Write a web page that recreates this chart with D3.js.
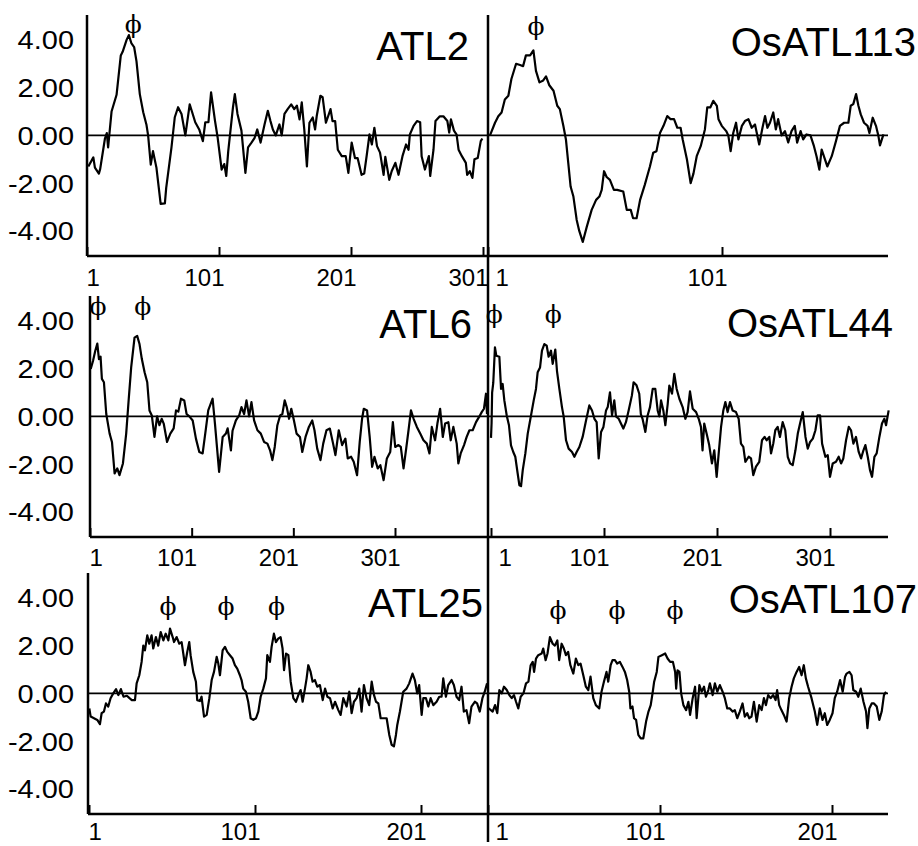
<!DOCTYPE html>
<html>
<head>
<meta charset="utf-8">
<script src="https://cdn.jsdelivr.net/npm/d3@7"></script>
<style>
  body { margin: 0; background: #fff; }
  svg { display: block; }
  text { font-family: "Liberation Sans", Arial, sans-serif; fill: #000; }
</style>
</head>
<body>
<svg id="chart" width="918" height="846"></svg>
<script>
// Hydropathy profiles, [residue, value]
const ATL2 = [[2,-1.3],[5.8,-0.92],[7,-1.35],[10,-1.6],[11,-1.4],[14.6,-0.13],[16,0.1],[17,-0.5],[19.6,1.0],[23.4,1.7],[26.6,3.35],[28,3.5],[31,4.0],[32.7,4.2],[34.7,3.85],[36.7,3.7],[38.5,3.1],[41,1.73],[43.6,0.97],[46,0.46],[47.3,0],[49.3,-1.22],[51,-0.66],[53.6,-1.35],[56.8,-2.87],[60,-2.85],[61,-2.2],[65,-0.5],[67.5,0.76],[70,1.18],[72.6,0.9],[75.5,0],[78.8,1.3],[80.5,1.0],[83,0.55],[86,0.25],[88.8,-0.24],[90.6,0.55],[93,0.55],[95,1.8],[98,0.6],[100,-0.1],[103,-1.43],[105,-1.2],[106.5,-1.7],[108,-0.66],[111.6,1.18],[113,1.73],[115,0.9],[118,0.2],[121,-1.57],[123,-0.5],[125.6,-0.3],[128,-0.1],[130,0.25],[132.5,-0.3],[135.5,0.46],[138,1.03],[140,0.6],[141.8,0.25],[144,0],[146.8,0.46],[148.5,0],[150.6,0.9],[153,1.1],[155.7,1.3],[158,1.1],[160,1.25],[162,0.67],[163.7,1.38],[165.6,0.25],[167.6,-1.3],[169.5,0.53],[172,0.75],[173.8,0.25],[175,0.8],[177.8,1.66],[179.5,1.6],[182,0.53],[185.5,1.1],[187,0.6],[189,0.6],[191,-0.6],[194,-0.87],[197,-0.87],[199,-1.57],[201.5,-0.3],[204,-0.95],[206,-0.95],[209,-1.65],[211,-1.6],[213,-0.8],[215,0.04],[216.8,-0.38],[218.7,0.32],[220.7,-0.45],[223,-0.72],[225.7,-1.65],[227,-0.9],[230,-1.86],[231.8,-1.5],[234.6,-1.15],[237,-1.65],[240,-0.87],[242.7,-0.38],[244.6,-0.6],[245.6,0.04],[248.4,0.4],[251,0.6],[253.4,0.55],[254.5,-0.87],[257,-1.43],[260,-0.87],[261,-1.7],[263.5,-0.6],[265,0.6],[268.3,0.8],[271,0.8],[274,0.6],[275.4,0.12],[276.7,0.67],[279,0.2],[281,0.03],[282.5,-0.6],[285,-0.87],[288,-1.15],[289,-1.65],[291,-1.5],[293,-1.78],[294.5,-1.0],[297,-0.95],[299.3,-0.24],[300.5,-0.13]];

const OsATL113 = [[1.85,0],[4,0.53],[5.4,0.8],[6.8,0.96],[8.2,1.5],[9.7,1.66],[11,2.36],[13,3.0],[14.7,2.95],[16,2.9],[17.2,3.35],[19,3.35],[20.4,3.56],[21.5,2.7],[23,2.22],[24.6,2.3],[25.8,2.47],[27.2,2.1],[29,1.87],[30.6,1.24],[31.7,1.1],[33.2,0.4],[34.3,-0.17],[35.3,-1.15],[36.3,-2.14],[37.5,-2.56],[38.9,-3.54],[40,-4.0],[41.5,-4.46],[43.2,-3.83],[45.3,-3.12],[47.2,-2.7],[48.6,-2.56],[49.6,-2.28],[50.6,-1.5],[51.7,-1.74],[53.1,-1.86],[54.8,-2.28],[56.2,-2.28],[58.8,-2.35],[60.3,-3.12],[62,-3.12],[63,-3.47],[64.5,-3.47],[66,-2.7],[68,-2.07],[70.2,-1.3],[71.6,-0.73],[73,-0.66],[74.5,0.1],[76,0.4],[77.6,0.81],[79,0.68],[80.5,0.68],[81.9,0.32],[83.3,0.32],[84.2,-0.17],[86,-1.0],[87.6,-2.0],[88.8,-1.6],[90.2,-0.87],[91.9,-0.45],[93.7,0.25],[94.7,1.17],[96,1.17],[97.3,1.45],[98.8,1.24],[99.5,0.68],[100.9,0.4],[102.8,0.18],[103.7,0],[104.7,-0.66],[105.8,0.1],[107,0.53],[108,-0.17],[109.5,0.4],[110.8,0.6],[112.3,0.68],[113.7,0.32],[115.1,0.46],[116.9,-0.38],[118.3,0.32],[119.4,0.81],[120.4,0.32],[121.5,0.53],[122.9,0.96],[124,0.25],[125,0.68],[126.5,0],[127.9,0.18],[129.3,-0.3],[130.7,0.18],[132.1,0.4],[133.1,-0.3],[134.6,0.18],[135.7,-0.17],[137.1,0.04],[138.8,0],[140.3,-0.45],[141.4,-0.87],[142.6,-1.43],[143.6,-0.59],[145,-1.0],[146,-1.3],[147.9,-0.87],[149.7,-0.24],[151.4,0.4],[153.2,0.53],[155,0.53],[156,1.24],[157.1,1.31],[158.3,1.73],[159.3,1.24],[160.3,0.88],[161.7,0.53],[163.2,0.4],[164,0.1],[165.4,0.74],[166.8,0.4],[167.8,0],[168.5,-0.42],[170,0.04]];

const ATL6 = [[1.7,1.99],[4,2.33],[6.2,2.75],[8.2,3.05],[9.8,2.4],[11.4,2.5],[12.7,1.57],[14.7,1.43],[17,0.1],[20.3,-0.72],[22.6,-1.07],[25.2,-2.39],[27.8,-2.18],[30,-2.46],[33.4,-1.97],[36.6,-0.72],[39,0.67],[41.5,2.05],[44.8,3.3],[47.4,3.37],[49.7,3.03],[52,2.4],[54.7,1.85],[57.3,1.43],[59.5,0.25],[61.8,0.04],[64.4,-0.86],[67,0],[69.3,-0.37],[71.5,-0.1],[73.5,-0.3],[76.8,-1.07],[80,-0.72],[83.3,-0.5],[85.6,0.25],[87.9,0.2],[90.5,0.74],[93.7,0.67],[96,0.1],[98.7,0],[102,-0.17],[105.2,-0.93],[108.5,-1.49],[111.8,-1.55],[115,-0.51],[117.3,0.25],[121.6,0.74],[123.9,-0.3],[128,-2.32],[131.5,-0.86],[134.7,-0.72],[136.4,-0.5],[139.6,-1.42],[141.2,-0.6],[144.5,-0.17],[147.7,0.04],[150,0.39],[152.6,0.1],[154.9,0.67],[157.5,0],[159.8,0.6],[162.4,-0.17],[165.7,-0.58],[169,-0.72],[172.2,-1.07],[175.5,-1.14],[178.1,-1.42],[180.4,-1.83],[182.7,-1.28],[185.3,-0.37],[188,0.04],[190.2,0.1],[192.5,0.67],[194.5,0.39],[196.8,-0.1],[199,0.32],[201.6,-0.17],[204.2,-0.72],[207.5,-0.86],[209.8,-1.49],[213,-0.86],[216.3,-0.44],[219.6,-0.17],[221.8,-0.58],[224.5,-1.35],[227.7,-1.83],[230.4,-1.14],[233.6,-0.58],[236.9,-0.51],[240.1,-1.14],[242.4,-1.62],[245.7,-0.58],[249,-1.2],[252.2,-0.93],[254.5,-1.76],[257.8,-1.69],[260.4,-1.9],[263.7,-2.46],[266.3,-1.07],[268.6,-0.1],[270.3,0.32],[273.5,0.25],[276.1,-0.86],[278.5,-2.11],[280.8,-1.69],[284,-2.18],[286.6,-2.04],[289.8,-2.67],[293,-1.76],[296.3,-1.49],[298.9,-0.24],[301.2,-1.28],[304.4,-1.2],[306.7,-1.28],[309.4,-2.18],[312,-1.35],[314.3,-0.58],[316.7,0.25],[319.3,-0.1],[322.5,-0.44],[325.8,-0.72],[329,-1.0],[332.3,-1.14],[334.9,-1.55],[337.2,-0.44],[340.4,-1.0],[342.7,-0.3],[345.4,0.32],[348,-0.86],[350.3,-0.3],[353.5,-0.24],[355.8,-1.0],[358.4,-0.44],[361.7,-1.14],[363.3,-1.97],[365.6,-1.55],[368.9,-1.2],[371.5,-0.86],[374.2,-0.58],[377.4,-0.58],[380.7,-0.24],[384,0],[386.3,0.18],[388.5,0.32],[390.5,0.95],[391.5,0.1]];

const OsATL44 = [[1,-0.9],[1.5,-0.3],[2,1.0],[3,1.4],[4.5,2.89],[5.7,2.54],[8.4,2.5],[9.9,1.15],[11.3,1.36],[12.8,0.67],[14.9,0.04],[16.9,-0.37],[18.7,-1.21],[20.7,-1.49],[22.5,-1.69],[24.6,-2.39],[26.1,-2.88],[27.6,-2.92],[29.1,-2.25],[31.4,-1.55],[33.5,-0.72],[36.4,0.04],[38.8,0.67],[40.8,1.15],[42.3,1.85],[44.4,2.05],[46.1,2.75],[48.2,3.03],[50.3,2.96],[52,2.5],[54.1,2.75],[55.6,2.2],[57.9,2.8],[59.4,1.9],[61.5,1.15],[63.8,0.39],[65.3,0],[67.4,-1.0],[69.7,-1.35],[72.7,-1.49],[74.8,-1.69],[76.8,-1.49],[79.2,-1.28],[82.1,-0.86],[85.1,-0.17],[88,0.46],[90.4,0.25],[92.5,-0.1],[94.5,-0.24],[96.3,-1.76],[98.4,-0.65],[100.5,-0.44],[102.8,0.25],[104.3,0.39],[106.3,1.01],[108.1,0.04],[110.1,0.67],[111.6,0],[114,-0.1],[116,-0.3],[118.1,-0.51],[120.4,-0.24],[122.8,0.25],[125.7,0.88],[127.2,1.43],[129.8,1.3],[132.2,0.95],[133.6,0.1],[135.1,-0.1],[137.6,-0.65],[139.6,0.04],[141.7,0.39],[144.1,1.15],[146.4,1.15],[148.5,0.25],[150,0],[151.5,0.67],[153.5,0.25],[155.3,-0.37],[157.4,0.53],[158.8,1.29],[161.2,0.95],[163.2,1.78],[165.3,1.15],[167.7,0.74],[170.6,0.39],[173,-0.1],[175,0.18],[177.1,1.05],[179.5,0.32],[182.5,0.18],[184.8,-0.1],[186.8,-0.44],[188.2,-1.42],[189.7,-0.3],[191.8,-0.72],[194.1,-1.2],[196.5,-1.97],[198.6,-1.42],[200.7,-2.53],[202.5,-1.55],[204.6,-0.44],[206.6,0.25],[208.4,0.6],[210.4,0.18],[212.5,0.6],[214.8,0.25],[217.8,0.18],[220.2,-0.1],[222.2,-1.14],[224.3,-1.28],[226.1,-1.9],[229,-1.69],[231.1,-1.76],[233.1,-2.46],[235.5,-2.1],[238.4,-1.9],[240.8,-1.0],[243.1,-0.86],[244.9,-1.0],[247.3,-0.86],[248.8,-1.55],[250.8,-1.14],[252.6,-0.58],[254.7,-0.44],[256.7,-0.86],[259.1,-0.24],[261.4,-0.58],[263.6,-1.69],[265.7,-1.97],[268,-2.04],[270.4,-1.42],[272.5,-0.72],[274.5,-0.3],[276.9,0.18],[279.3,-0.86],[281.3,-1.35],[283.4,-1.07],[285.8,-0.93],[288.1,-0.58],[290.1,0.04],[292.2,0.04],[294,-1.14],[296.9,-1.69],[299,-1.62],[301,-2.53],[303.4,-1.97],[306.3,-1.9],[308.7,-1.69],[310.8,-1.97],[312.8,-1.76],[315.2,-1.0],[317.6,-0.44],[319.6,-0.58],[321.7,-1.14],[324,-0.86],[326.4,-1.49],[328.5,-1.76],[330.6,-1.42],[332.3,-1.2],[334.4,-1.69],[336.4,-2.25],[338.2,-2.53],[340.3,-1.69],[342.3,-1.55],[344.7,-0.86],[347,-0.3],[349.1,-0.1],[350.6,-0.37],[352.9,0.25]];

const ATL25 = [[1.2,-0.63],[2,-0.97],[4,-1.04],[6,-1.11],[7.6,-1.29],[8.6,-0.83],[10,-0.76],[11.2,-0.42],[12.6,-0.55],[14,-0.2],[15.6,0],[17.3,0.18],[18.7,-0.07],[20.2,0.18],[21.8,-0.14],[23.8,-0.1],[25.4,-0.2],[26.8,-0.28],[28.7,-0.28],[29.7,0.42],[31.3,0.76],[32.7,1.32],[33.7,2.0],[34.7,1.8],[36.1,2.43],[37.3,2.08],[38.7,2.43],[39.7,1.88],[41.3,2.36],[42.7,2.0],[44.2,2.57],[45.8,2.22],[47.2,2.5],[48.8,2.22],[49.8,2.71],[51.4,2.36],[52.2,2.15],[53.8,2.36],[55.4,2.08],[56.8,2.15],[57.8,1.67],[58.8,1.18],[60.2,1.74],[61.4,2.15],[62.2,1.6],[63.8,0.9],[65.4,0.49],[66.2,-0.28],[67.8,-0.32],[68.8,-0.14],[70.3,-0.97],[71.9,-0.9],[73.5,-0.2],[74.9,0.56],[76.3,0.9],[77.9,1.53],[78.9,1.25],[79.9,0.76],[81.5,1.8],[82.9,1.95],[84.3,1.74],[85.9,1.6],[87.5,1.46],[88.9,1.18],[90.3,1.04],[91.9,0.76],[92.9,0.56],[93.9,0.2],[95.5,0.07],[96.9,-0.35],[98.4,-1.04],[100,-1.11],[101.6,-1.04],[103,-0.76],[104.4,-0.14],[106,0.2],[107.6,0.63],[108.4,1.6],[110,1.32],[111,1.95],[112.4,2.5],[113.6,2.15],[115,2.29],[116.4,2.36],[117.6,1.88],[118.5,0.97],[119.7,1.67],[121.1,1.6],[122.5,0.49],[124.1,-0.2],[125.7,-0.35],[127.1,-0.07],[128.5,0.14],[129.7,-0.35],[131.1,0.2],[132.1,0.63],[133.1,1.18],[134.5,0.9],[135.7,0.49],[137.1,0.56],[138.5,0.28],[140.1,0.35],[141.8,-0.28],[143.2,0.2],[144.6,-0.14],[146.2,-0.2],[147.8,-0.63],[149.2,-0.35],[151.2,-0.7],[152.6,-0.9],[154.2,-0.2],[156.2,-0.55],[157.8,0.07],[159.2,-0.83],[160.6,-0.35],[162.2,-0.2],[163.8,0.2],[165.2,-0.76],[166.6,0.35],[168.2,-0.2],[169.8,-0.49],[171.3,0.49],[172.7,-0.07],[173.9,-0.35],[175.3,-0.42],[176.7,-1.04],[178.3,-1.04],[180.3,-1.04],[181.9,-1.74],[183.3,-2.15],[184.7,-2.22],[185.9,-1.74],[186.7,-1.32],[188.3,-0.76],[190.3,0.07],[192.3,0.2],[193.9,0.42],[195.9,0.83],[197.3,0.56],[198.7,0],[199.9,0.35],[201.4,-0.9],[202.4,-0.2],[204,-0.2],[205.4,-0.55],[206.8,-0.2],[208.4,-0.49],[210.4,-0.35],[212,-0.14],[213.4,-0.14],[214.4,0.63],[216,-0.14],[217.4,0.35],[219.4,0.56],[220.8,0.35],[222.4,-0.14],[224,-0.28],[225.4,0.28],[226.8,-0.76],[228.4,-0.7],[230,-1.25],[231.4,-0.55],[233.4,-0.35],[234.8,-0.42],[236.4,-0.76],[238,-0.2],[239.4,0.07],[240.8,0.42]];

const OsATL107 = [[1,-0.6],[3.7,-0.76],[5.1,-0.49],[6.4,-0.83],[7.6,0.14],[9,0],[10.3,0.28],[11.9,0.14],[13.4,-0.07],[14.8,-0.2],[16.1,-0.07],[17.3,-0.35],[18.6,-0.63],[20,-0.14],[21.6,0],[23.1,0.42],[24.5,0.49],[25.8,1.18],[27,1.32],[27.8,0.9],[28.9,1.46],[30.2,1.6],[32.2,1.67],[33.1,1.88],[34.5,1.39],[35.6,1.67],[37,2.36],[38.6,2.08],[39.9,2.0],[41.3,2.22],[42.4,1.39],[43.8,2.08],[45.1,1.88],[46.3,1.6],[47.6,1.74],[48.9,1.18],[50.6,0.83],[52.1,1.46],[53.5,1.18],[54.8,1.25],[56.4,0.76],[57.9,0.28],[59.3,0.14],[60.6,0.7],[62.2,-0.2],[63.7,-0.49],[65.7,-0.63],[67,0.07],[68.4,0.49],[69.9,0.9],[70.9,0.49],[72.3,1.18],[73.4,1.39],[74.8,1.39],[76.1,1.25],[77.7,1.32],[79.2,1.11],[80.6,0.9],[81.9,0.56],[83.1,0.07],[83.8,-0.63],[85,-0.55],[85.9,-1.04],[87.1,-1.11],[88.4,-1.74],[89.8,-1.88],[91.3,-1.88],[92.9,-1.18],[94.3,-0.76],[95.6,-0.49],[96.8,0.07],[97.6,0.49],[99.1,0.9],[100.1,1.53],[102.1,1.6],[104,1.67],[105.4,1.46],[106.9,1.32],[108.5,1.32],[109.8,0.9],[110.4,0.2],[111.2,0.97],[112.3,0.9],[113.3,0],[114.6,-0.49],[116.2,-0.7],[117.5,-0.35],[118.5,-0.9],[120,-0.2],[121.4,0.28],[122.3,-1.04],[123.9,0.35],[125.2,0.07],[126.6,0.28],[127.7,-0.14],[129.1,0.14],[130,0.42],[131.6,-0.07],[132.9,0.42],[134.3,0.07],[135.8,0.35],[137.4,0.07],[138.7,-0.2],[140.1,-0.63],[141.6,-0.63],[143.2,-0.76],[144.5,-0.7],[145.9,-1.04],[147.4,-0.76],[149,-0.42],[150.3,-0.97],[151.7,-0.83],[152.9,-1.04],[154.2,-0.97],[155.6,-0.35],[157.2,-1.18],[158.7,-0.49],[160.1,-0.7],[161.4,-0.2],[162.6,-0.49],[163.9,-0.07],[165.3,-0.2],[166.8,-0.07],[168.2,-0.28],[169.1,0.14],[170.3,-0.49],[171.6,-0.7],[173,-0.9],[174.6,-1.18],[176.1,-0.2],[177.5,0.28],[178.8,0.63],[180.4,0.9],[181.9,1.11],[183.3,0.76],[184.6,1.18],[185.8,0.63],[187.1,0.28],[189.1,-0.2],[191,-0.76],[192.4,-1.32],[193.9,-0.63],[195.5,-1.11],[196.8,-0.83],[198.2,-1.32],[199.7,-1.11],[201.3,-0.83],[202.6,-0.2],[204,0.07],[205.7,0.56],[207.2,0.07],[208.6,0.7],[209.5,0.83],[211.1,0.9],[212.4,0.76],[213.4,0.14],[215,0.07],[216.3,-0.14],[217.7,0.2],[219.3,-0.35],[220.8,-0.76],[221.6,-1.46],[222.7,-0.63],[224.1,-0.42],[225.4,-0.42],[227,-0.55],[228.5,-1.11],[229.9,-0.76],[231.2,-0.07],[232.4,0.07]];

// residues marked with phi
const ATL2_phi = [36];
const OsATL113_phi = [21.5];
const ATL6_phi = [9, 53];
const OsATL44_phi = [4, 56];
const ATL25_phi = [48.6, 83.5, 114];
const OsATL107_phi = [41.7, 76, 109.7];

// axis ticks
const yTicks = [4, 2, 0, -2, -4];
const xTicks300 = [1, 101, 201, 301];
const xTicks200 = [1, 101, 201];
const xTicks100 = [1, 101];

// layout
const rowBottom = [256, 537, 814];
const labelDrop = [30, 29, 26];
const rowH = 240;
const rightAxisX = 488, rightEdge = 888;

const panels = [
  { title: 'ATL2',     data: ATL2,     phi: ATL2_phi,     phiY: 4.3,  ticks: xTicks300, row: 0, col: 0, axisX: 87, dom: [1, 301], rng: [87, 483],  titleX: 469, titleY: 60 },
  { title: 'OsATL113', data: OsATL113, phi: OsATL113_phi, phiY: 4.2,  ticks: xTicks100, row: 0, col: 1, axisX: 488, dom: [1, 101], rng: [488, 722], titleX: 916, titleY: 56 },
  { title: 'ATL6',     data: ATL6,     phi: ATL6_phi,     phiY: 4.25, ticks: xTicks300, row: 1, col: 0, axisX: 90, dom: [1, 301], rng: [90, 395],  titleX: 472, titleY: 338 },
  { title: 'OsATL44',  data: OsATL44,  phi: OsATL44_phi,  phiY: 3.92, ticks: xTicks300, row: 1, col: 1, axisX: 488, dom: [1, 301], rng: [491, 830], titleX: 893, titleY: 337 },
  { title: 'ATL25',    data: ATL25,    phi: ATL25_phi,    phiY: 3.3,  ticks: xTicks200, row: 2, col: 0, axisX: 88, dom: [1, 201], rng: [89, 421],  titleX: 483, titleY: 617 },
  { title: 'OsATL107', data: OsATL107, phi: OsATL107_phi, phiY: 3.1,  ticks: xTicks200, row: 2, col: 1, axisX: 488, dom: [1, 201], rng: [488, 832], titleX: 917, titleY: 613 }
];

const svg = d3.select('#chart');

panels.forEach(p => {
  const bottom = rowBottom[p.row], top = bottom - rowH;
  const x = d3.scaleLinear().domain(p.dom).range(p.rng);
  const y = d3.scaleLinear().domain([-5.05, 5.0]).range([bottom, top]);
  const xEnd = p.col === 0 ? rightAxisX : rightEdge;
  const g = svg.append('g');

  // zero line
  g.append('line')
    .attr('x1', p.axisX).attr('x2', xEnd)
    .attr('y1', y(0)).attr('y2', y(0))
    .attr('stroke', '#000').attr('stroke-width', 1.6);

  // profile
  g.append('path')
    .datum(p.data)
    .attr('fill', 'none').attr('stroke', '#000')
    .attr('stroke-width', 2.2).attr('stroke-linejoin', 'round')
    .attr('d', d3.line().x(d => x(d[0])).y(d => y(d[1])));

  // x axis: upward ticks, labels right-aligned on the tick
  const xa = g.append('g')
    .attr('transform', `translate(0,${bottom})`)
    .call(d3.axisBottom(x).tickValues(p.ticks).tickSizeInner(-9).tickSizeOuter(0).tickFormat(d3.format('d')));
  xa.select('.domain').remove();
  xa.selectAll('.tick line').attr('stroke-width', 2);
  xa.selectAll('.tick text')
    .attr('y', labelDrop[p.row]).attr('dy', null)
    .style('font-size', '24px')
    .attr('text-anchor', d => d === 1 ? 'start' : 'end')
    .attr('x', d => d === 1 ? (p.col === 0 ? -1 : 7) : 5);
  g.append('line')
    .attr('x1', p.axisX).attr('x2', xEnd)
    .attr('y1', bottom).attr('y2', bottom)
    .attr('stroke', '#000').attr('stroke-width', 2.5);

  // y axis (labels only on the left column)
  if (p.col === 0) {
    const ya = g.append('g')
      .attr('transform', `translate(${p.axisX},0)`)
      .call(d3.axisLeft(y).tickValues(yTicks).tickSize(0).tickFormat(d => d.toFixed(2)));
    ya.select('.domain').remove();
    ya.selectAll('.tick text')
      .attr('x', null).attr('dy', '0.36em')
      .attr('text-anchor', 'end')
      .style('font-size', '25px')
      .attr('transform', `translate(${74 - p.axisX},0) scale(1.16,1)`);
    g.append('line')
      .attr('x1', p.axisX).attr('x2', p.axisX)
      .attr('y1', top - 1).attr('y2', bottom)
      .attr('stroke', '#000').attr('stroke-width', 2.5);
  }

  // phi markers
  g.selectAll('.phi').data(p.phi).join('text')
    .attr('class', 'phi')
    .attr('x', d => x(d)).attr('y', y(p.phiY))
    .attr('text-anchor', 'middle')
    .style('font-family', '"DejaVu Serif", serif')
    .style('font-size', '25px')
    .style('fill', '#000')
    .text('\u03D5');

  // title
  g.append('text')
    .attr('x', p.titleX).attr('y', p.titleY)
    .attr('text-anchor', 'end')
    .style('font-size', '40px')
    .text(p.title);
});

// shared y axis of the right column
svg.append('line')
  .attr('x1', rightAxisX).attr('x2', rightAxisX)
  .attr('y1', rowBottom[0] - rowH - 1).attr('y2', 842)
  .attr('stroke', '#000').attr('stroke-width', 2.5);
</script>
</body>
</html>
